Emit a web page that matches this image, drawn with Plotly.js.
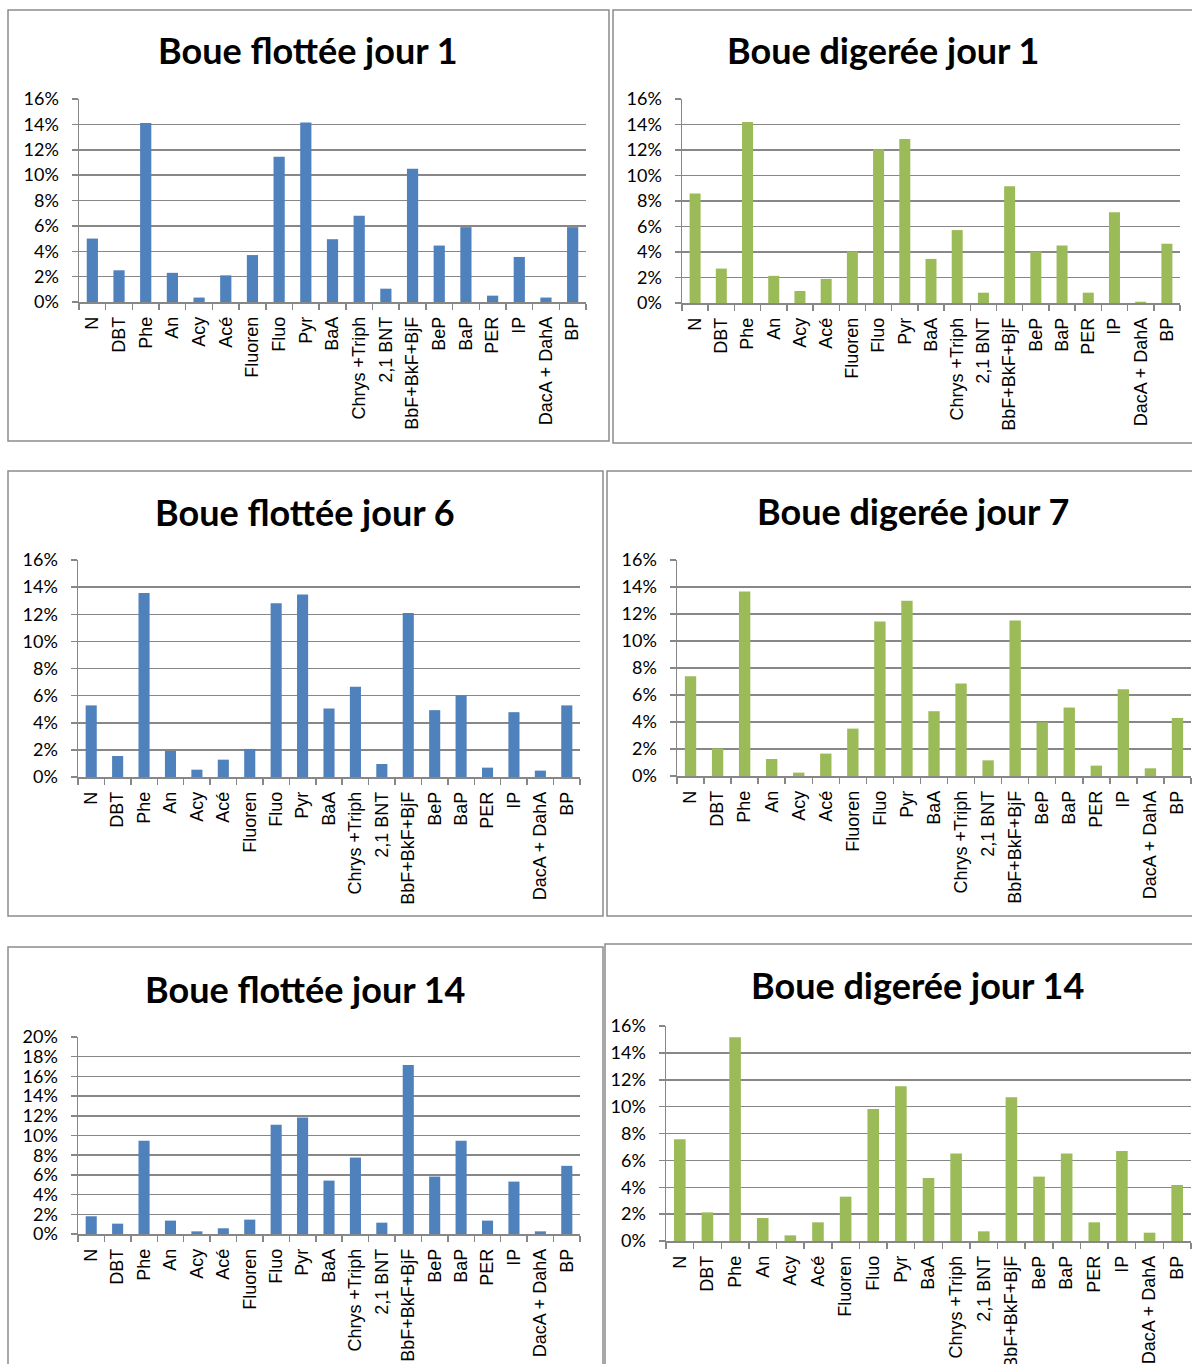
<!DOCTYPE html>
<html><head><meta charset="utf-8">
<script src="https://cdn.plot.ly/plotly-3.0.1.min.js"></script>
<style>body{margin:0;background:#fff}#chart{width:1192px;height:1364px}</style>
</head><body><div id="chart"></div>
<script>
// ---- DATA (values in %) ----
const categories = ["N","DBT","Phe","An","Acy","Acé","Fluoren","Fluo","Pyr","BaA","Chrys +Triph","2,1 BNT","BbF+BkF+BjF","BeP","BaP","PER","IP","DacA + DahA","BP"];

const boueFlotteeJour1  = [5.0, 2.5, 14.1, 2.3, 0.35, 2.1, 3.7, 11.45, 14.15, 4.95, 6.8, 1.05, 10.5, 4.45, 5.9, 0.5, 3.55, 0.35, 5.9];
const boueDigereeJour1  = [8.58, 2.7, 14.2, 2.13, 0.94, 1.89, 4.04, 12.05, 12.86, 3.46, 5.72, 0.81, 9.16, 4.04, 4.51, 0.81, 7.11, 0.1, 4.65];
const boueFlotteeJour6  = [5.28, 1.55, 13.56, 1.92, 0.54, 1.28, 2.07, 12.82, 13.46, 5.05, 6.66, 0.96, 12.1, 4.93, 6.02, 0.69, 4.78, 0.47, 5.28];
const boueDigereeJour7  = [7.39, 2.05, 13.67, 1.26, 0.25, 1.66, 3.51, 11.45, 12.98, 4.8, 6.85, 1.16, 11.52, 3.98, 5.07, 0.77, 6.43, 0.57, 4.3];
const boueFlotteeJour14 = [1.8, 1.05, 9.46, 1.36, 0.27, 0.58, 1.46, 11.08, 11.83, 5.42, 7.76, 1.15, 17.15, 5.83, 9.46, 1.36, 5.32, 0.27, 6.92];
const boueDigereeJour14 = [7.57, 2.13, 15.16, 1.71, 0.42, 1.39, 3.3, 9.82, 11.51, 4.69, 6.52, 0.72, 10.69, 4.79, 6.52, 1.39, 6.7, 0.62, 4.17];

const chartTitles = ["Boue flottée jour 1","Boue digerée jour 1","Boue flottée jour 6","Boue digerée jour 7","Boue flottée jour 14","Boue digerée jour 14"];
const seriesList = [boueFlotteeJour1, boueDigereeJour1, boueFlotteeJour6, boueDigereeJour7, boueFlotteeJour14, boueDigereeJour14];
const yMax = [16, 16, 16, 16, 20, 16];

// ---- LAYOUT / STYLE ----
const W = 1192, H = 1364;
const BLUE = "#4F81BD", GREEN = "#9BBB59";
const colors = [BLUE, GREEN, BLUE, GREEN, BLUE, GREEN];
const panels = [
  {plot:[79,586,99,302],  border:[8,10,609,441],   title:[308,50]},
  {plot:[682,1180,99,303],border:[613,10,1210,443],title:[883,50]},
  {plot:[78,580,560,777], border:[8,471,603,916],  title:[305,512]},
  {plot:[677,1191,560,776],border:[607,471,1210,916],title:[913,511]},
  {plot:[78,580,1037,1234],border:[8,947,603,1390],title:[305,989]},
  {plot:[666,1191,1026,1241],border:[605,944,1210,1390],title:[917,985]}
];
const px = x => x / W;
const py = y => 1 - y / H;
const GRID = "#878787";
const xTickFont = {family: "Liberation Sans, Arial, sans-serif", size: 18, color: "#000"};
const yTickFont = {family: "Lato, sans-serif", size: 18, color: "#000"};

const data = [];
const layout = {
  width: W, height: H,
  margin: {l:0, r:0, t:0, b:0},
  paper_bgcolor: "#fff", plot_bgcolor: "#fff",
  showlegend: false,
  bargap: 0.58,
  shapes: [], annotations: []
};

panels.forEach((p, i) => {
  const n = i === 0 ? "" : String(i + 1);
  data.push({
    type: "bar", x: categories, y: seriesList[i],
    xaxis: "x" + n, yaxis: "y" + n,
    marker: {color: colors[i], line: {width: 0}},
    hoverinfo: "x+y"
  });
  layout["xaxis" + n] = {
    domain: [px(p.plot[0]), px(p.plot[1])],
    anchor: "y" + n,
    type: "category",
    tickangle: -90,
    tickfont: xTickFont,
    ticks: "outside", ticklen: 6, tickwidth: 1.5, tickcolor: GRID,
    tickson: "boundaries",
    ticklabelstandoff: 6,
    showline: true, linecolor: GRID, linewidth: 1.5,
    showgrid: false, zeroline: false,
    automargin: false
  };
  layout["yaxis" + n] = {
    domain: [py(p.plot[3]), py(p.plot[2])],
    anchor: "x" + n,
    range: [0, yMax[i]],
    dtick: 2, tick0: 0,
    ticksuffix: "%",
    tickfont: yTickFont,
    ticks: "outside", ticklen: 6, tickwidth: 1.5, tickcolor: GRID,
    ticklabelstandoff: 9,
    showline: true, linecolor: GRID, linewidth: 1.5,
    showgrid: true, gridcolor: GRID, gridwidth: 1.5,
    zeroline: false,
    automargin: false
  };
  const b = p.border;
  layout.shapes.push({
    type: "rect", xref: "paper", yref: "paper",
    x0: px(b[0]), x1: px(b[2]), y0: py(b[3]), y1: py(b[1]),
    line: {color: "#8c8c8c", width: 1.5}, fillcolor: "rgba(0,0,0,0)", layer: "below"
  });
  layout.annotations.push({
    xref: "paper", yref: "paper",
    x: px(p.title[0]), y: py(p.title[1]),
    xanchor: "center", yanchor: "middle",
    text: "<b>" + chartTitles[i] + "</b>",
    showarrow: false,
    font: {family: "Lato", size: 36, color: "#000"}
  });
});

Plotly.newPlot("chart", data, layout, {staticPlot: true});
</script>
</body></html>
